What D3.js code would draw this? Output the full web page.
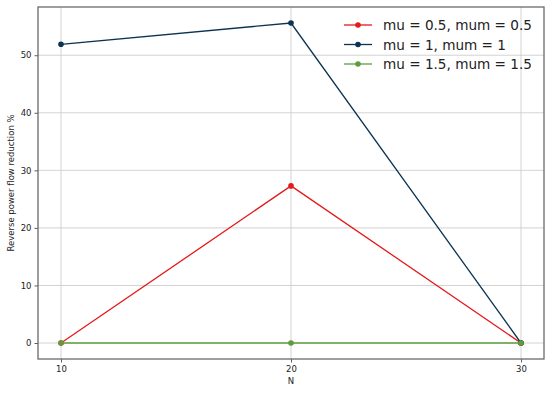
<!DOCTYPE html>
<html>
<head>
<meta charset="utf-8">
<script src="https://cdn.jsdelivr.net/npm/d3@7"></script>
<style>
  html, body { margin: 0; padding: 0; background: #fff; }
  svg text { font-family: "DejaVu Sans", sans-serif; }
</style>
</head>
<body>
<div id="chart"></div>
<script>
// Data
const nValues = [10, 20, 30];
const seriesNames = ["mu = 0.5, mum = 0.5", "mu = 1, mum = 1", "mu = 1.5, mum = 1.5"];
const seriesColors = ["#e41a1c", "#0b3352", "#5c9e3c"];
const reduction05 = [0, 27.3, 0];
const reduction1 = [51.9, 55.6, 0];
const reduction15 = [0, 0, 0];
const xTicks = [10, 20, 30];
const yTicks = [0, 10, 20, 30, 40, 50];

const seriesValues = [reduction05, reduction1, reduction15];

const width = 550, height = 394;
const margin = { top: 7, right: 6, bottom: 35, left: 38 };

const svg = d3.select('#chart')
    .append('svg')
    .attr('width', width)
    .attr('height', height);

// Scales
const x = d3.scaleLinear()
    .domain([9, 31])
    .range([margin.left, width - margin.right]);

const y = d3.scaleLinear()
    .domain([-2.78, 58.38])
    .range([height - margin.bottom, margin.top]);

// Grid
svg.append('g')
    .selectAll('line')
    .data(yTicks)
    .join('line')
    .attr('x1', margin.left).attr('x2', width - margin.right)
    .attr('y1', d => y(d)).attr('y2', d => y(d))
    .attr('stroke', '#c8c8c8').attr('stroke-width', 0.8);

svg.append('g')
    .selectAll('line')
    .data(xTicks)
    .join('line')
    .attr('y1', margin.top).attr('y2', height - margin.bottom)
    .attr('x1', d => x(d)).attr('x2', d => x(d))
    .attr('stroke', '#c8c8c8').attr('stroke-width', 0.8);

// Axes
const xAxis = svg.append('g')
    .attr('transform', `translate(0,${height - margin.bottom})`)
    .call(d3.axisBottom(x).tickValues(xTicks).tickSize(3.5).tickPadding(3));

const yAxis = svg.append('g')
    .attr('transform', `translate(${margin.left},0)`)
    .call(d3.axisLeft(y).tickValues(yTicks).tickSize(3.5).tickPadding(3));

[xAxis, yAxis].forEach(a => {
    a.select('.domain').remove();
    a.selectAll('.tick line').attr('stroke', '#333').attr('stroke-width', 0.8);
    a.selectAll('.tick text').attr('fill', '#222').style('font-size', '8.5px');
});

// Frame
svg.append('rect')
    .attr('x', margin.left).attr('y', margin.top)
    .attr('width', width - margin.right - margin.left)
    .attr('height', height - margin.bottom - margin.top)
    .attr('fill', 'none')
    .attr('stroke', '#6a6a6a')
    .attr('stroke-width', 1.3);

// Axis labels
svg.append('text')
    .attr('x', (margin.left + width - margin.right) / 2)
    .attr('y', 384)
    .attr('text-anchor', 'middle')
    .style('font-size', '8.5px')
    .attr('fill', '#222')
    .text('N');

svg.append('text')
    .attr('transform', `translate(14,${(margin.top + height - margin.bottom) / 2}) rotate(-90)`)
    .attr('text-anchor', 'middle')
    .style('font-size', '8.5px')
    .attr('fill', '#222')
    .text('Reverse power flow reduction %');

// Lines and points
const line = d3.line()
    .x((d, i) => x(nValues[i]))
    .y(d => y(d));

seriesValues.forEach((vals, s) => {
    svg.append('path')
        .datum(vals)
        .attr('d', line)
        .attr('fill', 'none')
        .attr('stroke', seriesColors[s])
        .attr('stroke-width', 1.3);

    svg.append('g')
        .selectAll('circle')
        .data(vals)
        .join('circle')
        .attr('cx', (d, i) => x(nValues[i]))
        .attr('cy', d => y(d))
        .attr('r', 2.8)
        .attr('fill', seriesColors[s]);
});

// Legend
const legend = svg.append('g').attr('transform', 'translate(344,25)');
seriesNames.forEach((name, i) => {
    const g = legend.append('g').attr('transform', `translate(0,${i * 19.5})`);
    g.append('line')
        .attr('x1', 0).attr('x2', 28)
        .attr('stroke', seriesColors[i]).attr('stroke-width', 1.3);
    g.append('circle')
        .attr('cx', 14).attr('r', 2.8)
        .attr('fill', seriesColors[i]);
    g.append('text')
        .attr('x', 39).attr('y', 5)
        .style('font-size', '13.6px')
        .attr('fill', '#222')
        .text(name);
});
</script>
</body>
</html>
